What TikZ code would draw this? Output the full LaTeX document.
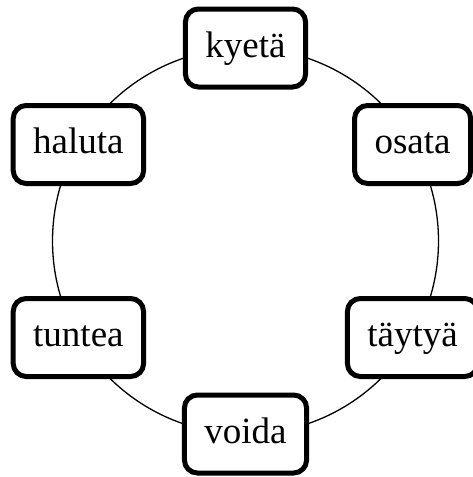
\documentclass[tikz,border=0pt]{standalone}
\usepackage{fontspec}
\setmainfont{Liberation Serif}
\begin{document}
\begin{tikzpicture}[x=1pt,y=-1pt,
  wordbox/.style={draw,fill=white,line width=5pt,rounded corners=13pt,
    font=\fontsize{37}{40}\selectfont,text height=26pt,text depth=8pt,
    inner xsep=20pt,inner ysep=22pt}]
\useasboundingbox (0,0) rectangle (472,477);
\coordinate (c) at (245.5,241);
\draw[line width=1.3pt] (c) circle[radius=193pt];
\node[wordbox] (kyeta) at (245.5,48) {kyetä};
\node[wordbox] (osata) at (412.6,144.5) {osata};
\node[wordbox] (taytya) at (412.6,337.5) {täytyä};
\node[wordbox] (voida) at (245.5,434) {voida};
\node[wordbox] (tuntea) at (78.4,337.5) {tuntea};
\node[wordbox] (haluta) at (78.4,144.5) {haluta};
\end{tikzpicture}
\end{document}
